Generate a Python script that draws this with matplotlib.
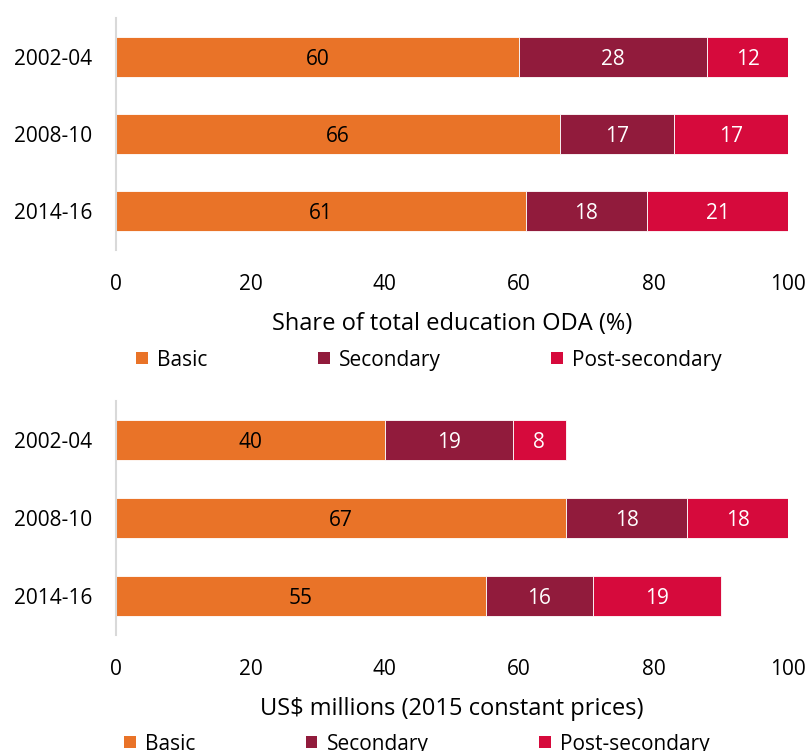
import matplotlib
matplotlib.use("Agg")
import matplotlib.pyplot as plt
from matplotlib.patches import Patch

plt.rcParams['font.family'] = ['Open Sans', 'DejaVu Sans']

periods = ["2002-04", "2008-10", "2014-16"]
series = ["Basic", "Secondary", "Post-secondary"]
colors = ["#E97328", "#911B3C", "#D60A3C"]
text_colors = ["black", "white", "white"]

# share of total education ODA (%)
share_basic = [60, 66, 61]
share_secondary = [28, 17, 18]
share_post = [12, 17, 21]

# US$ millions, 2015 constant prices
usd_basic = [40, 67, 55]
usd_secondary = [19, 18, 16]
usd_post = [8, 18, 19]

xticks = [0, 20, 40, 60, 80, 100]


def stacked_panel(ax, values, xlabel):
    left = [0] * len(periods)
    ypos = list(range(len(periods)))
    for vals, col, tcol in zip(values, colors, text_colors):
        ax.barh(ypos, vals, left=left, height=0.52, color=col,
                edgecolor="white", linewidth=0.6)
        for y, l, v in zip(ypos, left, vals):
            # label sits in the middle of the part that is visible
            end = min(l + v, xticks[-1])
            ax.text((l + end) / 2, y, str(v), ha="center",
                    va="center_baseline", color=tcol, fontsize=15)
        left = [a + b for a, b in zip(left, vals)]
    ax.set_xlim(0, 100)
    ax.set_ylim(len(periods) - 0.5, -0.5)
    ax.set_yticks(ypos)
    ax.set_yticklabels(periods)
    ax.set_xticks(xticks)
    ax.tick_params(axis="both", length=0, labelsize=15)
    ax.tick_params(axis="y", pad=17)
    ax.tick_params(axis="x", pad=17)
    for s in ["top", "right", "bottom"]:
        ax.spines[s].set_visible(False)
    ax.spines["left"].set_color("#D9D9D9")
    ax.spines["left"].set_linewidth(1.5)
    ax.set_xlabel(xlabel, fontsize=17, labelpad=12.5)


fig = plt.figure(figsize=(8.08, 7.51), dpi=100)
ax1 = fig.add_axes([0.1436, 0.6671, 0.8317, 0.3089])
ax2 = fig.add_axes([0.1436, 0.1545, 0.8317, 0.3116])

stacked_panel(ax1, [share_basic, share_secondary, share_post],
              "Share of total education ODA (%)")
stacked_panel(ax2, [usd_basic, usd_secondary, usd_post],
              "US$ millions (2015 constant prices)")

handles = [Patch(facecolor=c, edgecolor="none") for c in colors]
for xc, yc in [(0.531, 0.5206), (0.516, 0.0093)]:
    fig.legend(handles, series, loc="center", bbox_to_anchor=(xc, yc),
               ncol=3, frameon=False, fontsize=15, handlelength=0.55,
               handleheight=0.55, handletextpad=0.45, columnspacing=5.3)

fig.savefig("out.png", dpi=100)
